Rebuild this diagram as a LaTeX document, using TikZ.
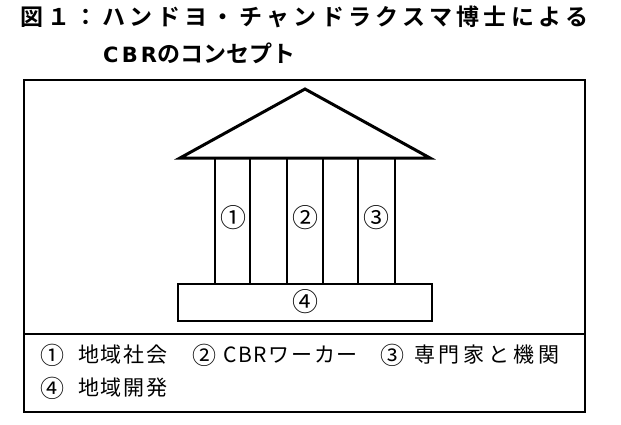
\documentclass[tikz,border=0pt]{standalone}
\usepackage{fontspec}
\newfontfamily\jpb[LetterSpace=19]{Noto Sans CJK JP Bold}
\newfontfamily\latb[LetterSpace=15]{DejaVu Sans Bold}
\newfontfamily\jpbb{Noto Sans CJK JP Bold}
\newfontfamily\jp[LetterSpace=8]{Noto Sans CJK JP}
\newfontfamily\jpw[LetterSpace=18]{Noto Sans CJK JP}
\newfontfamily\jpn{Noto Sans CJK JP}
\begin{document}
\begin{tikzpicture}[x=1bp,y=-1bp,
  frame/.style={line width=1.8bp},
  roofline/.style={line width=3bp, line join=miter},
  colline/.style={line width=2.4bp},
  ttl/.style={inner sep=0pt, anchor=west, font=\jpb\fontsize{23bp}{23bp}\selectfont},
  ttlb/.style={inner sep=0pt, anchor=west, font=\jpbb\fontsize{23bp}{23bp}\selectfont},
  leg/.style={inner sep=0pt, anchor=west, font=\jp\fontsize{21bp}{21bp}\selectfont},
  legw/.style={inner sep=0pt, anchor=west, font=\jpw\fontsize{21bp}{21bp}\selectfont},
  lnum/.style={inner sep=0pt, font=\jpn\fontsize{24bp}{24bp}\selectfont},
  num/.style={inner sep=0pt, font=\jpn\fontsize{26bp}{26bp}\selectfont}]
\useasboundingbox (0,0) rectangle (621,424);
% title
\node[ttl] (t1) at (20,17) {図１：ハンドヨ・チャンドラクスマ博士による};
\node[ttlb] (t2) at (103,53) {{\latb\fontsize{21bp}{21bp}\selectfont CBR}のコンセプト};
% frame
\draw[frame] (24,80) rectangle (585,412);
\draw[frame] (24,334) -- (585,334);
% roof
\draw[roofline] (180,158) -- (305,89) -- (430,158) -- cycle;
% columns
\foreach \a/\b in {215/250,287/323,358/395}{
  \draw[colline] (\a,158) -- (\a,284);
  \draw[colline] (\b,158) -- (\b,284);
}
% base
\draw[colline] (178,284) rectangle (432,321);
\node[num] (n1) at (233,218) {①};
\node[num] (n2) at (305,218) {②};
\node[num] (n3) at (376,218) {③};
\node[num] (n4) at (305,302) {④};
% legend
\node[lnum] (l1n) at (52,355) {①};
\node[leg] (l1) at (78,355) {地域社会};
\node[lnum] (l2n) at (204,355) {②};
\node[leg] (l2) at (223,355) {CBRワーカー};
\node[lnum] (l3n) at (392,355) {③};
\node[legw] (l3) at (414,355) {専門家と機関};
\node[lnum] (l4n) at (52,388) {④};
\node[leg] (l4) at (78,388) {地域開発};
\end{tikzpicture}
\end{document}
